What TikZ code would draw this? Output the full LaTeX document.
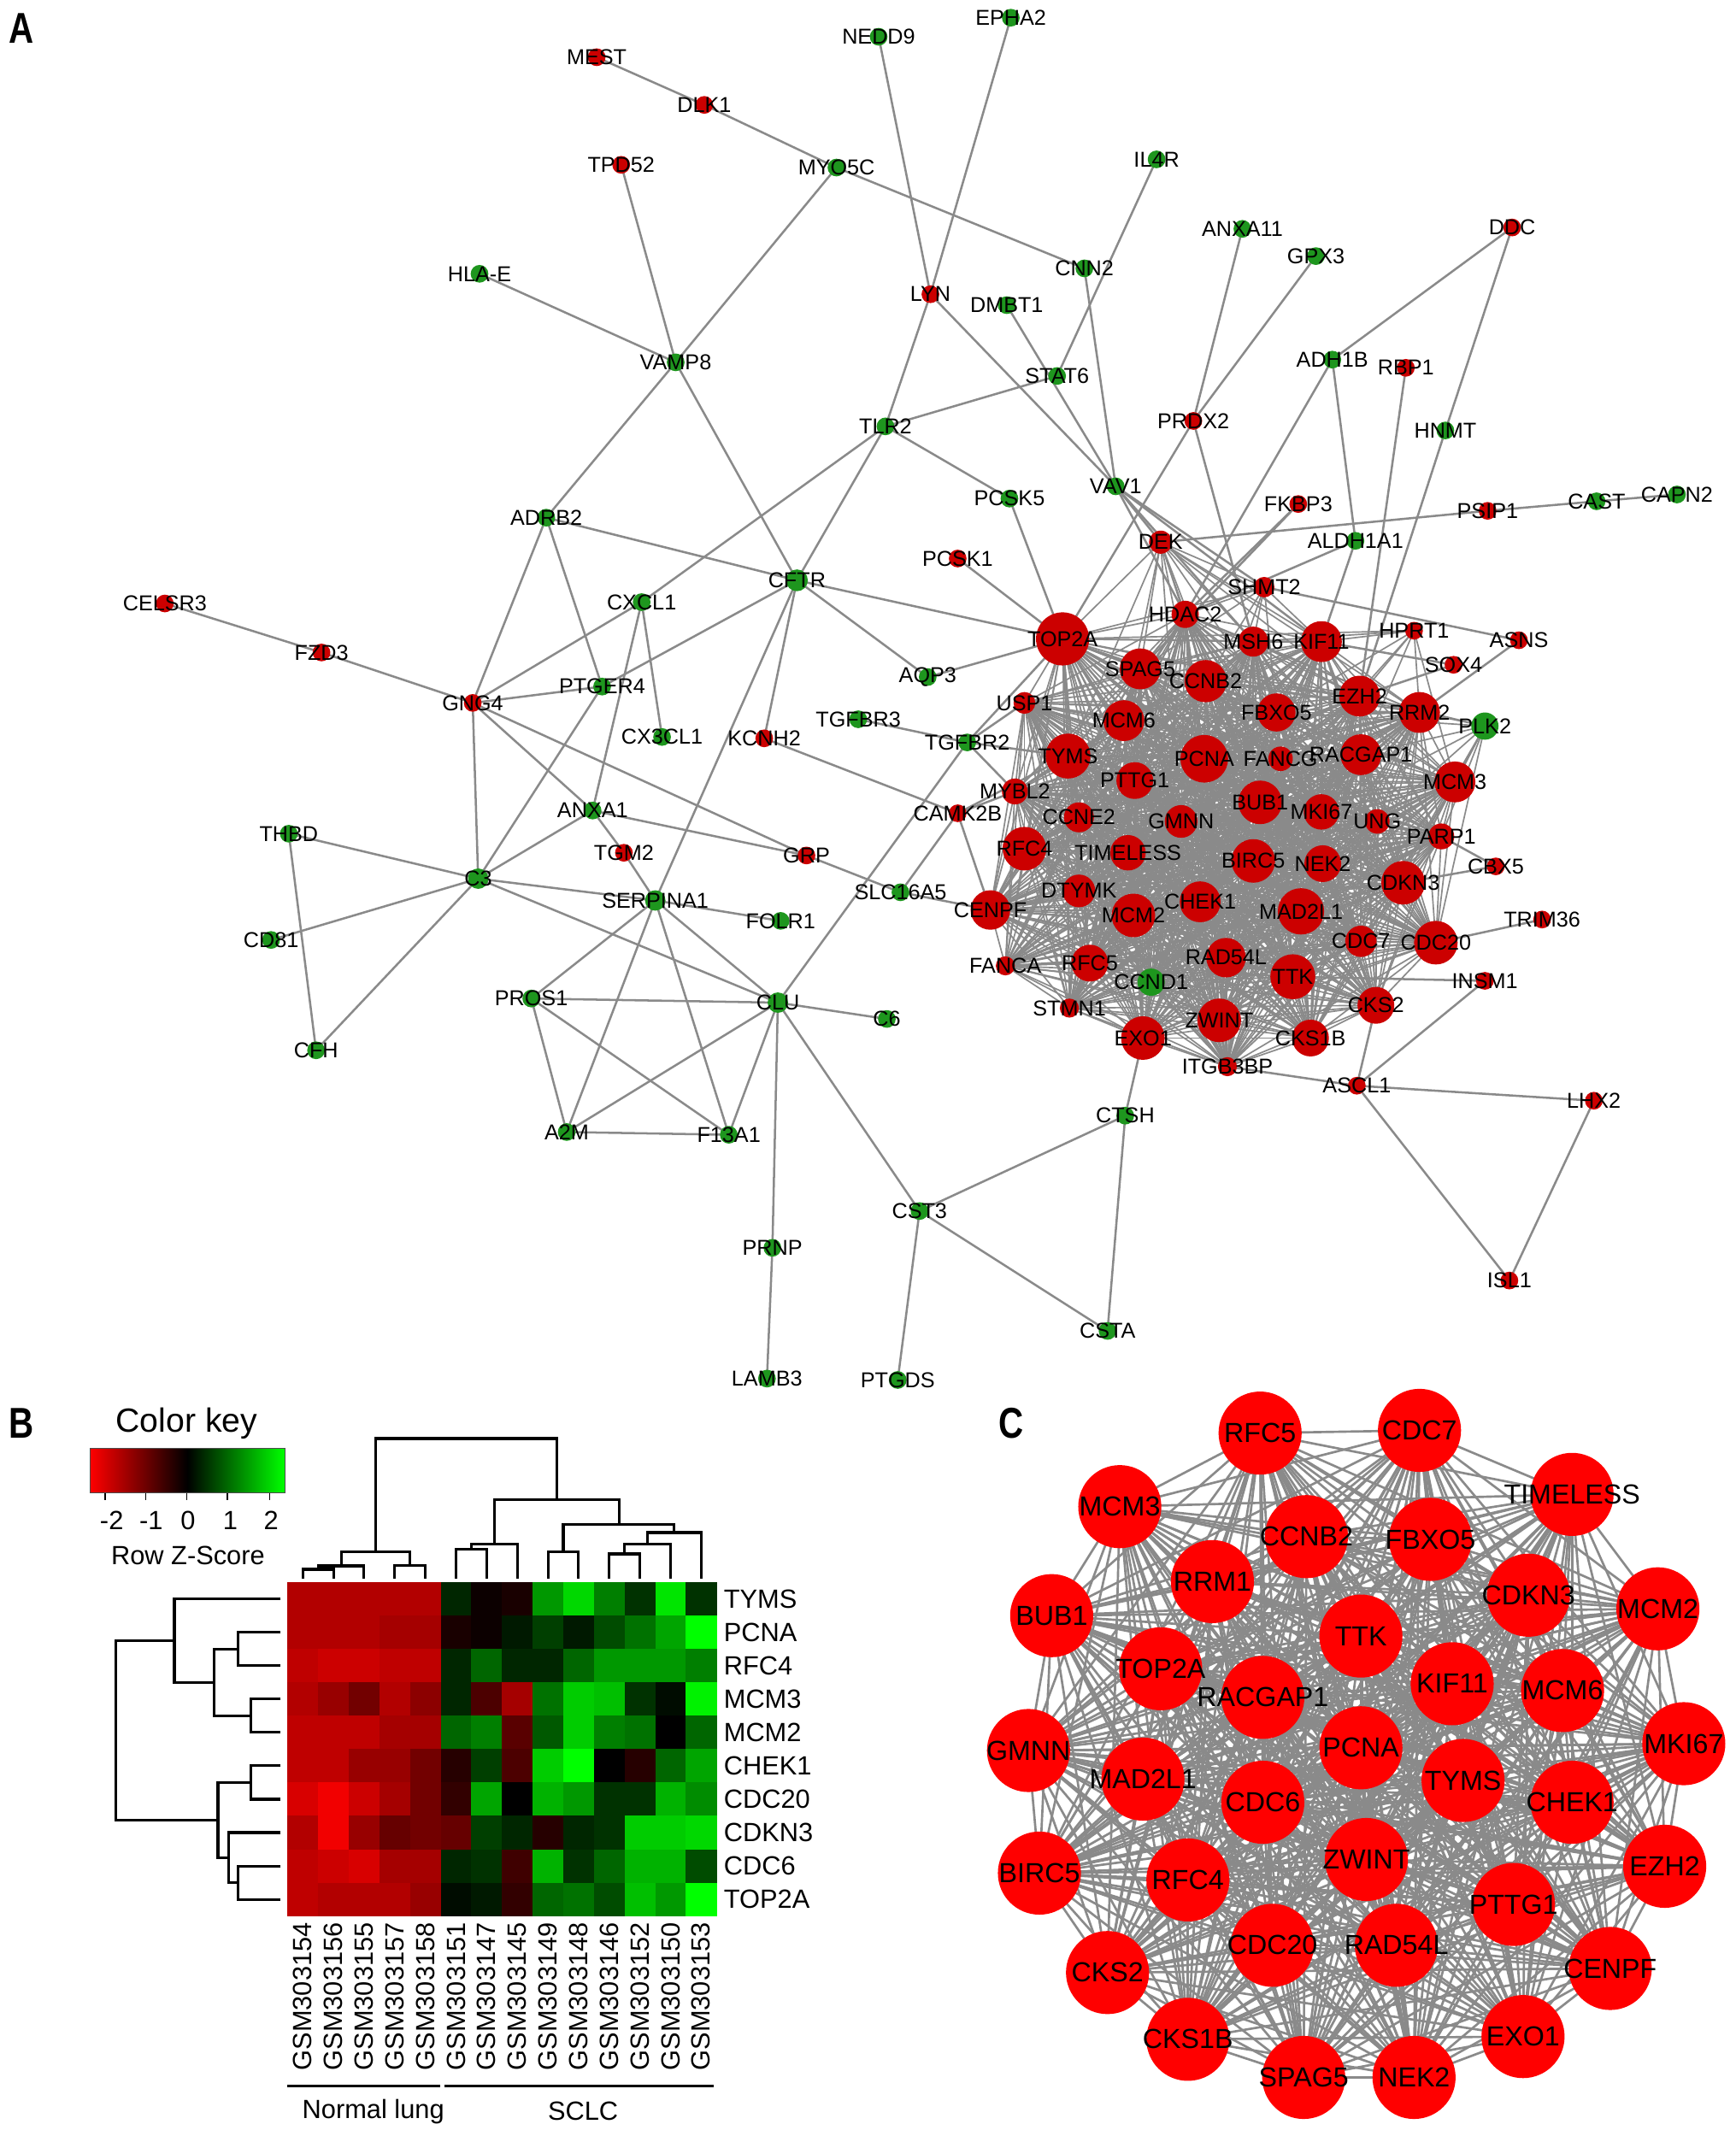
\documentclass[tikz,border=0pt]{standalone}
\usepackage{fontspec}
\setmainfont{Liberation Sans}
\pgfdeclarelayer{bg}
\pgfdeclarelayer{edges}
\pgfdeclarelayer{labels}
\pgfsetlayers{bg,edges,main,labels}
\definecolor{nred}{RGB}{204,0,0}
\definecolor{ngreen}{RGB}{30,150,30}
\definecolor{cred}{RGB}{255,0,0}
\definecolor{egray}{RGB}{138,138,138}
\definecolor{kgreen}{RGB}{0,255,0}
\tikzset{
 dot/.style={circle,inner sep=0pt,minimum size=0.26cm},
 rdot/.style={dot,fill=nred},
 gdot/.style={dot,fill=ngreen},
 lab/.style={inner sep=0pt,font=\fontsize{9}{10}\selectfont},
 aedge/.style={draw=egray,line width=0.9pt},
 kedge/.style={draw=egray,line width=0.6pt},
 cbig/.style={circle,inner sep=0pt,minimum size=1.22cm,fill=cred},
 clab/.style={inner sep=0pt,font=\fontsize{11.5}{12}\selectfont},
 qedge/.style={draw=egray,line width=0.95pt},
 hlab/.style={inner sep=0pt,font=\fontsize{11}{12}\selectfont},
 dend/.style={draw=black,line width=1.1pt},
 plet/.style={inner sep=0pt,font=\fontsize{18}{18}\selectfont\bfseries},
}
\newcommand\mkA[5]{\node[#1] (#2) at (#3,#4) {};%
 \begin{pgfonlayer}{labels}\node[lab] (#2-t) at (#2.center) {#5};\end{pgfonlayer}}
\newcommand\mkC[4]{\node[cbig] (#1) at (#2,#3) {};%
 \begin{pgfonlayer}{labels}\node[clab] (#1-t) at (#1.center) {#4};\end{pgfonlayer}}
\def\corelist{TOP2A,HDAC2,MSH6,KIF11,SPAG5,CCNB2,EZH2,RRM2,USP1,MCM6,FBXO5,TYMS,PCNA,FANCG,RACGAP1,MCM3,MYBL2,PTTG1,BUB1,MKI67,UNG,PARP1,CCNE2,GMNN,RFC4,TIMELESS,BIRC5,NEK2,CDKN3,DTYMK,CENPF,MCM2,CHEK1,MAD2L1,CDC7,CDC20,RAD54L,FANCA,RFC5,TTK,CCND1,STMN1,CKS2,ZWINT,EXO1,CKS1B,ITGB3BP}
\def\qlist{qRFC5,qCDC7,qTIMELESS,qMCM3,qCCNB2,qFBXO5,qRRM1,qCDKN3,qMCM2,qBUB1,qTTK,qTOP2A,qKIF11,qRACGAP1,qMCM6,qMKI67,qGMNN,qPCNA,qMAD2L1,qTYMS,qCHEK1,qCDC6,qEZH2,qBIRC5,qRFC4,qZWINT,qPTTG1,qCENPF,qCDC20,qRAD54L,qCKS2,qEXO1,qCKS1B,qSPAG5,qNEK2}
\begin{document}
\begin{tikzpicture}[x=0.02cm,y=-0.02cm]
\useasboundingbox (0,0) rectangle (1274,1568);
\begin{pgfonlayer}{bg}\fill[white] (0,0) rectangle (1274,1568);\end{pgfonlayer}

% panel letters
\node[plet] (pA) at (16,21) {\scalebox{0.8}[1]{A}};
\node[plet] (pB) at (16,1045) {\scalebox{0.8}[1]{B}};
\node[plet] (pC) at (742,1045) {\scalebox{0.8}[1]{C}};

% ---------------- Panel A peripheral nodes
\mkA{rdot}{MEST}{438}{42}{MEST}
\mkA{rdot}{DLK1}{517}{77}{DLK1}
\mkA{gdot}{NEDD9}{645}{27}{NEDD9}
\mkA{gdot}{EPHA2}{742}{13}{EPHA2}
\mkA{rdot}{TPD52}{456}{121}{TPD52}
\mkA{gdot}{MYO5C}{614}{123}{MYO5C}
\mkA{gdot}{IL4R}{849}{117}{IL4R}
\mkA{gdot}{ANXA11}{912}{168}{ANXA11}
\mkA{rdot}{DDC}{1110}{167}{DDC}
\mkA{gdot}{GPX3}{966}{188}{GPX3}
\mkA{gdot}{HLAE}{352}{201}{HLA-E}
\mkA{gdot}{CNN2}{796}{197}{CNN2}
\mkA{rdot}{LYN}{683}{216}{LYN}
\mkA{gdot}{DMBT1}{739}{224}{DMBT1}
\mkA{gdot}{VAMP8}{496}{266}{VAMP8}
\mkA{gdot}{STAT6}{776}{276}{STAT6}
\mkA{gdot}{ADH1B}{978}{264}{ADH1B}
\mkA{rdot}{RBP1}{1032}{270}{RBP1}
\mkA{gdot}{TLR2}{650}{313}{TLR2}
\mkA{rdot}{PRDX2}{876}{309}{PRDX2}
\mkA{gdot}{HNMT}{1061}{316}{HNMT}
\mkA{gdot}{VAV1}{819}{357}{VAV1}
\mkA{gdot}{PCSK5}{741}{366}{PCSK5}
\mkA{rdot}{FKBP3}{953}{370}{FKBP3}
\mkA{rdot}{PSIP1}{1092}{375}{PSIP1}
\mkA{gdot}{CAST}{1172}{368}{CAST}
\mkA{gdot}{CAPN2}{1231}{363}{CAPN2}
\mkA{gdot}{ADRB2}{401}{380}{ADRB2}
\mkA{rdot,minimum size=0.34cm}{DEK}{852}{398}{DEK}
\mkA{gdot}{ALDH1A1}{995}{397}{ALDH1A1}
\mkA{rdot}{PCSK1}{703}{410}{PCSK1}
\mkA{gdot,minimum size=0.32cm}{CFTR}{585}{426}{CFTR}
\mkA{rdot,minimum size=0.3cm}{SHMT2}{928}{431}{SHMT2}
\mkA{rdot}{CELSR3}{121}{443}{CELSR3}
\mkA{gdot}{CXCL1}{471}{442}{CXCL1}
\mkA{rdot}{FZD3}{236}{479}{FZD3}
\mkA{gdot}{AQP3}{681}{497}{AQP3}
\mkA{gdot}{PTGER4}{442}{504}{PTGER4}
\mkA{rdot}{GNG4}{347}{516}{GNG4}
\mkA{gdot}{TGFBR3}{630}{528}{TGFBR3}
\mkA{gdot}{CX3CL1}{486}{541}{CX3CL1}
\mkA{rdot}{KCNH2}{561}{542}{KCNH2}
\mkA{gdot}{TGFBR2}{710}{545}{TGFBR2}
\mkA{rdot}{CAMK2B}{703}{597}{CAMK2B}
\mkA{gdot}{ANXA1}{435}{595}{ANXA1}
\mkA{rdot}{TGM2}{458}{626}{TGM2}
\mkA{rdot}{GRP}{592}{628}{GRP}
\mkA{gdot}{THBD}{212}{612}{THBD}
\mkA{gdot,minimum size=0.3cm}{C3}{351}{645}{C3}
\mkA{gdot}{SLC16A5}{661}{655}{SLC16A5}
\mkA{gdot,minimum size=0.3cm}{SERPINA1}{481}{661}{SERPINA1}
\mkA{gdot}{FOLR1}{573}{676}{FOLR1}
\mkA{gdot}{CD81}{199}{690}{CD81}
\mkA{gdot}{PROS1}{390}{733}{PROS1}
\mkA{gdot,minimum size=0.3cm}{CLU}{571}{736}{CLU}
\mkA{gdot}{C6}{651}{748}{C6}
\mkA{gdot}{CFH}{232}{771}{CFH}
\mkA{rdot}{ASCL1}{996}{797}{ASCL1}
\mkA{rdot}{LHX2}{1170}{808}{LHX2}
\mkA{gdot}{A2M}{416}{831}{A2M}
\mkA{gdot}{F13A1}{535}{833}{F13A1}
\mkA{gdot}{CTSH}{826}{819}{CTSH}
\mkA{gdot}{CST3}{675}{889}{CST3}
\mkA{gdot}{PRNP}{567}{916}{PRNP}
\mkA{rdot}{ISL1}{1108}{940}{ISL1}
\mkA{gdot}{CSTA}{813}{977}{CSTA}
\mkA{gdot}{LAMB3}{563}{1012}{LAMB3}
\mkA{gdot}{PTGDS}{659}{1013}{PTGDS}
\mkA{rdot}{TRIM36}{1132}{675}{TRIM36}
\mkA{rdot}{INSM1}{1090}{720}{INSM1}
\mkA{rdot}{CBX5}{1098}{636}{CBX5}
\mkA{rdot}{ASNS}{1115}{470}{ASNS}
\mkA{rdot}{SOX4}{1067}{488}{SOX4}
\mkA{rdot}{HPRT1}{1038}{463}{HPRT1}
\mkA{gdot,minimum size=0.40cm}{PLK2}{1090}{533}{PLK2}

% ---------------- Panel A cluster nodes
\mkA{rdot,minimum size=0.78cm}{TOP2A}{780}{469}{TOP2A}
\mkA{rdot,minimum size=0.40cm}{HDAC2}{870}{451}{HDAC2}
\mkA{rdot,minimum size=0.44cm}{MSH6}{920}{471}{MSH6}
\mkA{rdot,minimum size=0.60cm}{KIF11}{970}{471}{KIF11}
\mkA{rdot,minimum size=0.60cm}{SPAG5}{837}{491}{SPAG5}
\mkA{rdot,minimum size=0.62cm}{CCNB2}{885}{500}{CCNB2}
\mkA{rdot,minimum size=0.60cm}{EZH2}{998}{511}{EZH2}
\mkA{rdot,minimum size=0.60cm}{RRM2}{1042}{523}{RRM2}
\mkA{rdot,minimum size=0.32cm}{USP1}{752}{516}{USP1}
\mkA{rdot,minimum size=0.60cm}{MCM6}{825}{529}{MCM6}
\mkA{rdot,minimum size=0.56cm}{FBXO5}{937}{523}{FBXO5}
\mkA{rdot,minimum size=0.66cm}{TYMS}{784}{555}{TYMS}
\mkA{rdot,minimum size=0.70cm}{PCNA}{884}{557}{PCNA}
\mkA{rdot,minimum size=0.36cm}{FANCG}{940}{557}{FANCG}
\mkA{rdot,minimum size=0.60cm}{RACGAP1}{999}{554}{RACGAP1}
\mkA{rdot,minimum size=0.60cm}{MCM3}{1068}{574}{MCM3}
\mkA{rdot,minimum size=0.38cm}{MYBL2}{745}{581}{MYBL2}
\mkA{rdot,minimum size=0.54cm}{PTTG1}{833}{573}{PTTG1}
\mkA{rdot,minimum size=0.64cm}{BUB1}{925}{589}{BUB1}
\mkA{rdot,minimum size=0.52cm}{MKI67}{970}{596}{MKI67}
\mkA{rdot,minimum size=0.36cm}{UNG}{1011}{603}{UNG}
\mkA{rdot,minimum size=0.38cm}{PARP1}{1058}{614}{PARP1}
\mkA{rdot,minimum size=0.44cm}{CCNE2}{792}{600}{CCNE2}
\mkA{rdot,minimum size=0.48cm}{GMNN}{867}{603}{GMNN}
\mkA{rdot,minimum size=0.64cm}{RFC4}{752}{623}{RFC4}
\mkA{rdot,minimum size=0.52cm}{TIMELESS}{828}{626}{TIMELESS}
\mkA{rdot,minimum size=0.64cm}{BIRC5}{920}{632}{BIRC5}
\mkA{rdot,minimum size=0.54cm}{NEK2}{971}{634}{NEK2}
\mkA{rdot,minimum size=0.64cm}{CDKN3}{1030}{648}{CDKN3}
\mkA{rdot,minimum size=0.48cm}{DTYMK}{792}{654}{DTYMK}
\mkA{rdot,minimum size=0.58cm}{CENPF}{727}{668}{CENPF}
\mkA{rdot,minimum size=0.64cm}{MCM2}{832}{672}{MCM2}
\mkA{rdot,minimum size=0.60cm}{CHEK1}{881}{662}{CHEK1}
\mkA{rdot,minimum size=0.68cm}{MAD2L1}{955}{669}{MAD2L1}
\mkA{rdot,minimum size=0.46cm}{CDC7}{999}{691}{CDC7}
\mkA{rdot,minimum size=0.64cm}{CDC20}{1054}{692}{CDC20}
\mkA{rdot,minimum size=0.58cm}{RAD54L}{900}{703}{RAD54L}
\mkA{rdot,minimum size=0.28cm}{FANCA}{738}{709}{FANCA}
\mkA{rdot,minimum size=0.54cm}{RFC5}{800}{707}{RFC5}
\mkA{rdot,minimum size=0.66cm}{TTK}{949}{717}{TTK}
\mkA{gdot,minimum size=0.40cm}{CCND1}{845}{721}{CCND1}
\mkA{rdot,minimum size=0.28cm}{STMN1}{785}{740}{STMN1}
\mkA{rdot,minimum size=0.54cm}{CKS2}{1010}{738}{CKS2}
\mkA{rdot,minimum size=0.64cm}{ZWINT}{895}{749}{ZWINT}
\mkA{rdot,minimum size=0.64cm}{EXO1}{839}{762}{EXO1}
\mkA{rdot,minimum size=0.54cm}{CKS1B}{962}{762}{CKS1B}
\mkA{rdot,minimum size=0.28cm}{ITGB3BP}{901}{783}{ITGB3BP}

% ---------------- Panel A edges
\begin{pgfonlayer}{edges}
\foreach \a [count=\i] in \corelist {
  \foreach \b [count=\j] in \corelist {
    \ifnum\j>\i\relax \draw[kedge] (\a.center) -- (\b.center);\fi
  }
}
\foreach \a/\b in {DEK/TOP2A,DEK/HDAC2,DEK/SPAG5,DEK/CCNB2,DEK/MSH6,DEK/KIF11,DEK/MCM6,DEK/PCNA,DEK/FBXO5,DEK/TYMS,DEK/EZH2,DEK/BUB1,DEK/SHMT2,DEK/RRM2,DEK/GMNN,
  SHMT2/TOP2A,SHMT2/HDAC2,SHMT2/MSH6,SHMT2/KIF11,SHMT2/CCNB2,SHMT2/FBXO5,SHMT2/PCNA,SHMT2/SPAG5,
  HPRT1/EZH2,HPRT1/RRM2,HPRT1/RACGAP1,HPRT1/KIF11,HPRT1/FBXO5,HPRT1/TOP2A,HPRT1/MSH6,HPRT1/MCM3,HPRT1/BUB1,
  PLK2/RRM2,PLK2/MCM3,PLK2/RACGAP1,PLK2/CDKN3,PLK2/CDC20,PLK2/PARP1,PLK2/EZH2,PLK2/UNG,PLK2/MKI67,PLK2/FBXO5,PLK2/CDC7}
  \draw[kedge] (\a.center) -- (\b.center);
\foreach \a/\b in {MEST/DLK1,DLK1/MYO5C,MYO5C/VAMP8,MYO5C/CNN2,TPD52/VAMP8,HLAE/VAMP8,VAMP8/ADRB2,VAMP8/CFTR,
  NEDD9/LYN,EPHA2/LYN,LYN/TLR2,LYN/VAV1,IL4R/STAT6,CNN2/VAV1,DMBT1/VAV1,STAT6/TLR2,TLR2/PCSK5,PCSK5/TOP2A,
  TLR2/CXCL1,TLR2/CFTR,ADRB2/CFTR,ADRB2/GNG4,ADRB2/PTGER4,CFTR/PTGER4,CFTR/TOP2A,CFTR/AQP3,CFTR/KCNH2,CFTR/SERPINA1,
  CXCL1/GNG4,CXCL1/CX3CL1,CXCL1/ANXA1,CELSR3/FZD3,FZD3/GNG4,GNG4/PTGER4,GNG4/C3,GNG4/ANXA1,GNG4/GRP,PTGER4/C3,
  ANXA1/C3,ANXA1/GRP,ANXA1/TGM2,TGM2/SERPINA1,C3/THBD,C3/CD81,C3/CFH,C3/SERPINA1,C3/CLU,THBD/CFH,
  SERPINA1/FOLR1,SERPINA1/CLU,SERPINA1/PROS1,SERPINA1/A2M,SERPINA1/F13A1,PROS1/CLU,PROS1/A2M,PROS1/F13A1,
  A2M/F13A1,A2M/CLU,F13A1/CLU,CLU/C6,CLU/PRNP,CLU/CST3,CLU/TGFBR2,PRNP/LAMB3,CST3/PTGDS,CST3/CTSH,CST3/CSTA,
  CTSH/CSTA,CTSH/EXO1,KCNH2/CAMK2B,GRP/SLC16A5,SLC16A5/CENPF,SLC16A5/CAMK2B,CAMK2B/CENPF,CAMK2B/TYMS,CAMK2B/MYBL2,
  TGFBR3/TGFBR2,TGFBR2/MYBL2,TGFBR2/USP1,TGFBR2/TYMS,TGFBR2/TOP2A,AQP3/TOP2A,PCSK1/TOP2A,
  VAV1/DEK,VAV1/SHMT2,VAV1/MSH6,VAV1/HDAC2,VAV1/KIF11,PRDX2/ANXA11,PRDX2/GPX3,PRDX2/TOP2A,PRDX2/MSH6,
  ADH1B/DDC,ADH1B/ALDH1A1,ADH1B/HDAC2,ALDH1A1/KIF11,ALDH1A1/HDAC2,DDC/HNMT,HNMT/EZH2,RBP1/EZH2,
  FKBP3/HDAC2,FKBP3/SPAG5,PSIP1/DEK,PSIP1/CAST,CAST/CAPN2,SHMT2/ASNS,ASNS/RRM2,SOX4/EZH2,SOX4/KIF11,
  PARP1/CBX5,CBX5/CDKN3,CDC20/TRIM36,INSM1/ASCL1,INSM1/TTK,ASCL1/CKS2,ASCL1/ITGB3BP,ASCL1/LHX2,ASCL1/ISL1,LHX2/ISL1}
  \draw[aedge] (\a.center) -- (\b.center);
\end{pgfonlayer}

% ---------------- Panel B
\node[font=\fontsize{14}{15}\selectfont,inner sep=0pt] (ckey) at (137,1045) {Color key};
\shade[left color=red,right color=kgreen,middle color=black] (66,1063) rectangle (209,1096);
\draw[black!70,line width=0.4pt] (66,1063) rectangle (209,1096);
\foreach \x in {77,107,137,167,198} \draw[black,line width=0.6pt] (\x,1096) -- (\x,1101);
\foreach \x/\t [count=\i] in {82/-2,111/-1,138/0,169/1,199/2} \node[hlab] (tk\i) at (\x,1116) {\t};
\node[hlab] (rzs) at (138,1142) {Row Z-Score};

\foreach \row [count=\ri] in {
 {-1.4,-1.4,-1.4,-1.4,-1.4,0.3,-0.1,-0.2,1.2,1.7,1.0,0.4,1.8,0.4},
 {-1.4,-1.4,-1.4,-1.3,-1.3,-0.2,-0.1,0.2,0.5,0.2,0.6,0.9,1.3,2.2},
 {-1.5,-1.6,-1.6,-1.5,-1.5,0.3,0.8,0.3,0.3,0.8,1.2,1.2,1.2,1.0},
 {-1.4,-1.2,-0.9,-1.4,-1.1,0.3,-0.6,-1.3,0.9,1.6,1.5,0.4,0.1,1.9},
 {-1.5,-1.5,-1.5,-1.3,-1.3,0.8,1.0,-0.7,0.7,1.6,1.0,0.9,0.0,0.8},
 {-1.5,-1.5,-1.2,-1.2,-0.9,-0.3,0.5,-0.6,1.6,2.2,0.0,-0.3,0.8,1.3},
 {-1.7,-1.9,-1.6,-1.3,-0.9,-0.4,1.3,0.0,1.4,1.2,0.4,0.4,1.4,1.1},
 {-1.4,-1.9,-1.2,-0.8,-0.9,-0.8,0.5,0.3,-0.3,0.3,0.4,1.6,1.6,1.7},
 {-1.5,-1.6,-1.7,-1.3,-1.3,0.3,0.4,-0.5,1.4,0.4,0.8,1.4,1.4,0.6},
 {-1.5,-1.4,-1.4,-1.4,-1.2,0.1,0.2,-0.4,0.8,0.9,0.6,1.5,1.2,2.0}} {
  \foreach \v [count=\ci] in \row {
    \pgfmathtruncatemacro\vR{(\v<0)*min(255,abs(\v)*127.5)}
    \pgfmathtruncatemacro\vG{(\v>0)*min(255,abs(\v)*127.5)}
    \definecolor{cellc}{RGB}{\vR,\vG,0}
    \fill[cellc] ({211+22.5*(\ci-1)},{1161.5+24.5*(\ri-1)}) rectangle ({211.3+22.5*\ci},{1161.8+24.5*\ri});
  }
}
\foreach \t [count=\i] in {TYMS,PCNA,RFC4,MCM3,MCM2,CHEK1,CDC20,CDKN3,CDC6,TOP2A}
  \node[hlab,anchor=west] (rl\i) at (531,{1161.5+24.5*(\i-0.5)}) {\t};
\foreach \t [count=\i] in {GSM303154,GSM303156,GSM303155,GSM303157,GSM303158,GSM303151,GSM303147,GSM303145,GSM303149,GSM303148,GSM303146,GSM303152,GSM303150,GSM303153}
  \node[hlab,rotate=90,anchor=east] (cl\i) at ({211+22.5*(\i-0.5)},1411) {\t};
% column dendrogram
\draw[dend] (222.25,1159)--(222.25,1152)--(244.75,1152)--(244.75,1159);
\draw[dend] (233.5,1152)--(233.5,1149.5)--(267.25,1149.5)--(267.25,1159);
\draw[dend] (289.75,1159)--(289.75,1149)--(312.25,1149)--(312.25,1159);
\draw[dend] (250.4,1149.5)--(250.4,1139)--(301,1139)--(301,1149);
\draw[dend] (334.75,1159)--(334.75,1137)--(357.25,1137)--(357.25,1159);
\draw[dend] (346,1137)--(346,1133.7)--(379.75,1133.7)--(379.75,1159);
\draw[dend] (402.25,1159)--(402.25,1139)--(424.75,1139)--(424.75,1159);
\draw[dend] (447.25,1159)--(447.25,1140.7)--(469.75,1140.7)--(469.75,1159);
\draw[dend] (458.5,1140.7)--(458.5,1133.7)--(492.25,1133.7)--(492.25,1159);
\draw[dend] (475.4,1133.7)--(475.4,1125)--(514.75,1125)--(514.75,1159);
\draw[dend] (413.5,1139)--(413.5,1119)--(495,1119)--(495,1125);
\draw[dend] (362.9,1133.7)--(362.9,1100.7)--(454.3,1100.7)--(454.3,1119);
\draw[dend] (275.7,1139)--(275.7,1056)--(408.6,1056)--(408.6,1100.7);
% row dendrogram
\draw[dend] (206,1198.25)--(175,1198.25)--(175,1222.75)--(206,1222.75);
\draw[dend] (206,1247.25)--(184,1247.25)--(184,1271.75)--(206,1271.75);
\draw[dend] (175,1210.5)--(157,1210.5)--(157,1259.5)--(184,1259.5);
\draw[dend] (206,1173.75)--(128,1173.75)--(128,1235)--(157,1235);
\draw[dend] (206,1296.25)--(184,1296.25)--(184,1320.75)--(206,1320.75);
\draw[dend] (206,1369.75)--(175,1369.75)--(175,1394.25)--(206,1394.25);
\draw[dend] (206,1345.25)--(168,1345.25)--(168,1382)--(175,1382);
\draw[dend] (184,1308.5)--(160,1308.5)--(160,1363.6)--(168,1363.6);
\draw[dend] (128,1204.4)--(85,1204.4)--(85,1336)--(160,1336);
% groups
\draw[dend] (211,1531)--(323,1531);
\draw[dend] (326,1531)--(524,1531);
\node[hlab] (gN) at (274,1550) {Normal lung};
\node[hlab] (gS) at (428,1550) {SCLC};

% ---------------- Panel C
\mkC{qRFC5}{925}{1052}{RFC5}
\mkC{qCDC7}{1042}{1050}{CDC7}
\mkC{qTIMELESS}{1154}{1097}{TIMELESS}
\mkC{qMCM3}{822}{1106}{MCM3}
\mkC{qCCNB2}{959}{1128}{CCNB2}
\mkC{qFBXO5}{1050}{1130}{FBXO5}
\mkC{qRRM1}{890}{1161}{RRM1}
\mkC{qCDKN3}{1122}{1171}{CDKN3}
\mkC{qMCM2}{1217}{1181}{MCM2}
\mkC{qBUB1}{772}{1186}{BUB1}
\mkC{qTTK}{999}{1201}{TTK}
\mkC{qTOP2A}{852}{1225}{TOP2A}
\mkC{qKIF11}{1066}{1236}{KIF11}
\mkC{qRACGAP1}{927}{1246}{RACGAP1}
\mkC{qMCM6}{1147}{1241}{MCM6}
\mkC{qMKI67}{1236}{1280}{MKI67}
\mkC{qGMNN}{755}{1285}{GMNN}
\mkC{qPCNA}{999}{1283}{PCNA}
\mkC{qMAD2L1}{839}{1306}{MAD2L1}
\mkC{qTYMS}{1074}{1307}{TYMS}
\mkC{qCHEK1}{1154}{1323}{CHEK1}
\mkC{qCDC6}{927}{1323}{CDC6}
\mkC{qEZH2}{1222}{1370}{EZH2}
\mkC{qBIRC5}{763}{1375}{BIRC5}
\mkC{qRFC4}{872}{1380}{RFC4}
\mkC{qZWINT}{1003}{1365}{ZWINT}
\mkC{qPTTG1}{1111}{1398}{PTTG1}
\mkC{qCENPF}{1182}{1445}{CENPF}
\mkC{qCDC20}{934}{1428}{CDC20}
\mkC{qRAD54L}{1025}{1428}{RAD54L}
\mkC{qCKS2}{813}{1448}{CKS2}
\mkC{qEXO1}{1118}{1495}{EXO1}
\mkC{qCKS1B}{872}{1497}{CKS1B}
\mkC{qSPAG5}{957}{1525}{SPAG5}
\mkC{qNEK2}{1038}{1525}{NEK2}
\begin{pgfonlayer}{edges}
\foreach \a [count=\i] in \qlist {
  \foreach \b [count=\j] in \qlist {
    \ifnum\j>\i\relax \draw[qedge] (\a.center) -- (\b.center);\fi
  }
}
\end{pgfonlayer}
\end{tikzpicture}
\end{document}
